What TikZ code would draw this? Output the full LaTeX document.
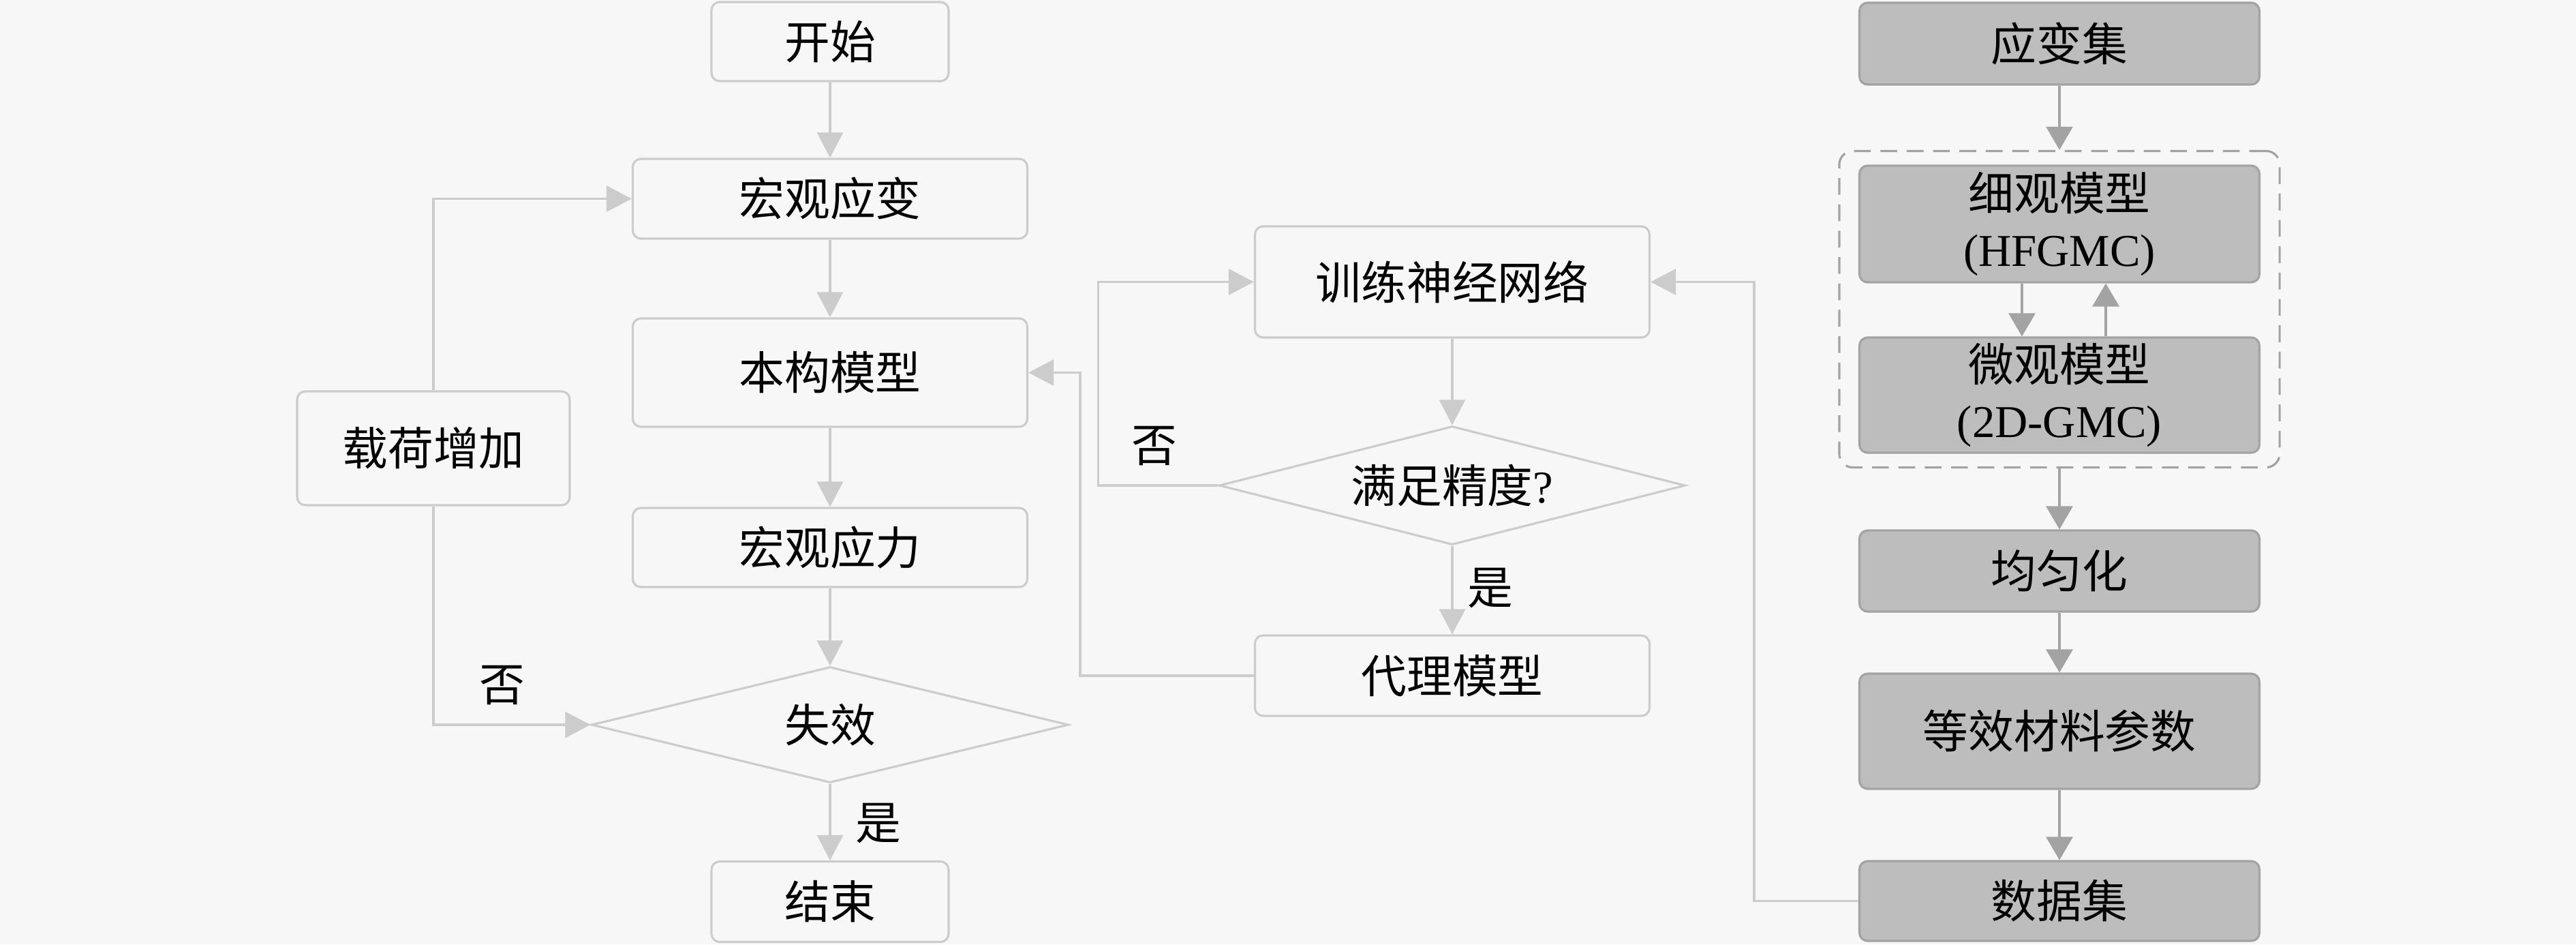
\documentclass[tikz,border=0pt]{standalone}
\usepackage{fontspec}
\setmainfont{Liberation Serif}
\newfontfamily\cjk{Noto Sans CJK SC}
\usepackage{xcolor}
\usepackage{tikz}
\usetikzlibrary{arrows.meta,positioning,shapes.geometric,fit,calc}

\definecolor{bg}{HTML}{F7F7F7}
\definecolor{lline}{HTML}{CCCCCC}
\definecolor{dfill}{HTML}{BDBDBD}
\definecolor{dline}{HTML}{A3A3A3}

\begin{document}
\begin{tikzpicture}[
    every node/.style={font=\cjk\fontsize{19}{23.5}\selectfont},
    lbox/.style={rectangle, draw=lline, fill=bg, rounded corners=0.12cm,
                 line width=0.9pt, minimum width=5.79cm, minimum height=1.17cm,
                 inner sep=0pt, align=center},
    dbox/.style={lbox, draw=dline, fill=dfill, minimum width=5.87cm},
    dec/.style={diamond, draw=lline, fill=bg, line width=0.9pt,
                aspect=4, inner sep=0pt},
    grp/.style={rectangle, draw=dline, dashed, dash pattern=on 7pt off 4pt,
                rounded corners=0.2cm, line width=0.9pt},
    larr/.style={-{Triangle[length=0.37cm, width=0.38cm]}, draw=lline, line width=0.9pt},
    darr/.style={-{Triangle[length=0.34cm, width=0.39cm]}, draw=dline, line width=0.9pt},
    lab/.style={inner sep=0pt},
]
\useasboundingbox (0,0) rectangle (37.8,-13.85);
\fill[bg] (0,0) rectangle (37.8,-13.85);

% Left: loading loop
\node[lbox, minimum width=3.48cm, minimum height=1.16cm] (start) at (12.18,-0.61) {开始};
\node[lbox] (mstrain) at (12.18,-2.915) {宏观应变};
\node[lbox, minimum height=1.59cm] (const) at (12.18,-5.465) {本构模型};
\node[lbox, minimum height=1.16cm] (mstress) at (12.18,-8.03) {宏观应力};
\node[dec, minimum width=7.0cm, minimum height=1.7cm] (fail) at (12.18,-10.63) {失效};
\node[lbox, minimum width=3.48cm, minimum height=1.18cm] (stop) at (12.18,-13.225) {结束};
\node[lbox, minimum width=4.0cm, minimum height=1.67cm] (load) at (6.36,-6.575) {载荷增加};

% Middle: surrogate training
\node[lbox, minimum height=1.63cm] (train) at (21.31,-4.135) {训练神经网络};
\node[dec, minimum width=6.84cm, minimum height=1.74cm] (acc) at (21.31,-7.12) {满足精度{\rmfamily ?}};
\node[lbox, minimum height=1.18cm] (surr) at (21.31,-9.91) {代理模型};

% Right: micromechanics data
\node[dbox, minimum height=1.2cm] (sset) at (30.22,-0.64) {应变集};
\node[dbox, minimum height=1.71cm] (meso) at (30.22,-3.285) {细观模型\\{\rmfamily (HFGMC)}};
\node[dbox, minimum height=1.69cm] (micro) at (30.22,-5.795) {微观模型\\{\rmfamily (2D-GMC)}};
\node[grp, fit=(meso)(micro), inner xsep=0.28cm, inner ysep=0.2cm] (group) {};
\node[dbox, minimum height=1.19cm] (homog) at (30.22,-8.375) {均匀化};
\node[dbox, minimum height=1.69cm] (equiv) at (30.22,-10.725) {等效材料参数};
\node[dbox, minimum height=1.17cm] (dset) at (30.22,-13.215) {数据集};

% Labels
\node[lab] (no1) at (7.37,-10.05) {否};
\node[lab] (yes1) at (12.89,-12.08) {是};
\node[lab] (no2) at (16.94,-6.54) {否};
\node[lab] (yes2) at (21.87,-8.63) {是};

% Arrows
\draw[larr] (start) -- (mstrain);
\draw[larr] (mstrain) -- (const);
\draw[larr] (const) -- (mstress);
\draw[larr] (mstress) -- (fail);
\draw[larr] (fail) -- (stop);
\draw[larr] (load.north) |- (mstrain.west);
\draw[larr] (load.south) |- (fail.west);

\draw[larr] (train) -- (acc);
\draw[larr] (acc) -- (surr);
\draw[larr] (acc.west) -- ++(-1.76,0) |- (train.west);
\draw[larr] (surr.west) -- ++(-2.55,0) |- (const.east);
\draw[larr] (dset.west) -- ++(-1.53,0) |- (train.east);

\draw[darr] (sset) -- (group);
\draw[darr] ([xshift=-0.55cm]meso.south) -- ([xshift=-0.55cm]micro.north);
\draw[darr] ([xshift=0.68cm]micro.north) -- ([xshift=0.68cm]meso.south);
\draw[darr] (group) -- (homog);
\draw[darr] (homog) -- (equiv);
\draw[darr] (equiv) -- (dset);
\end{tikzpicture}
\end{document}
